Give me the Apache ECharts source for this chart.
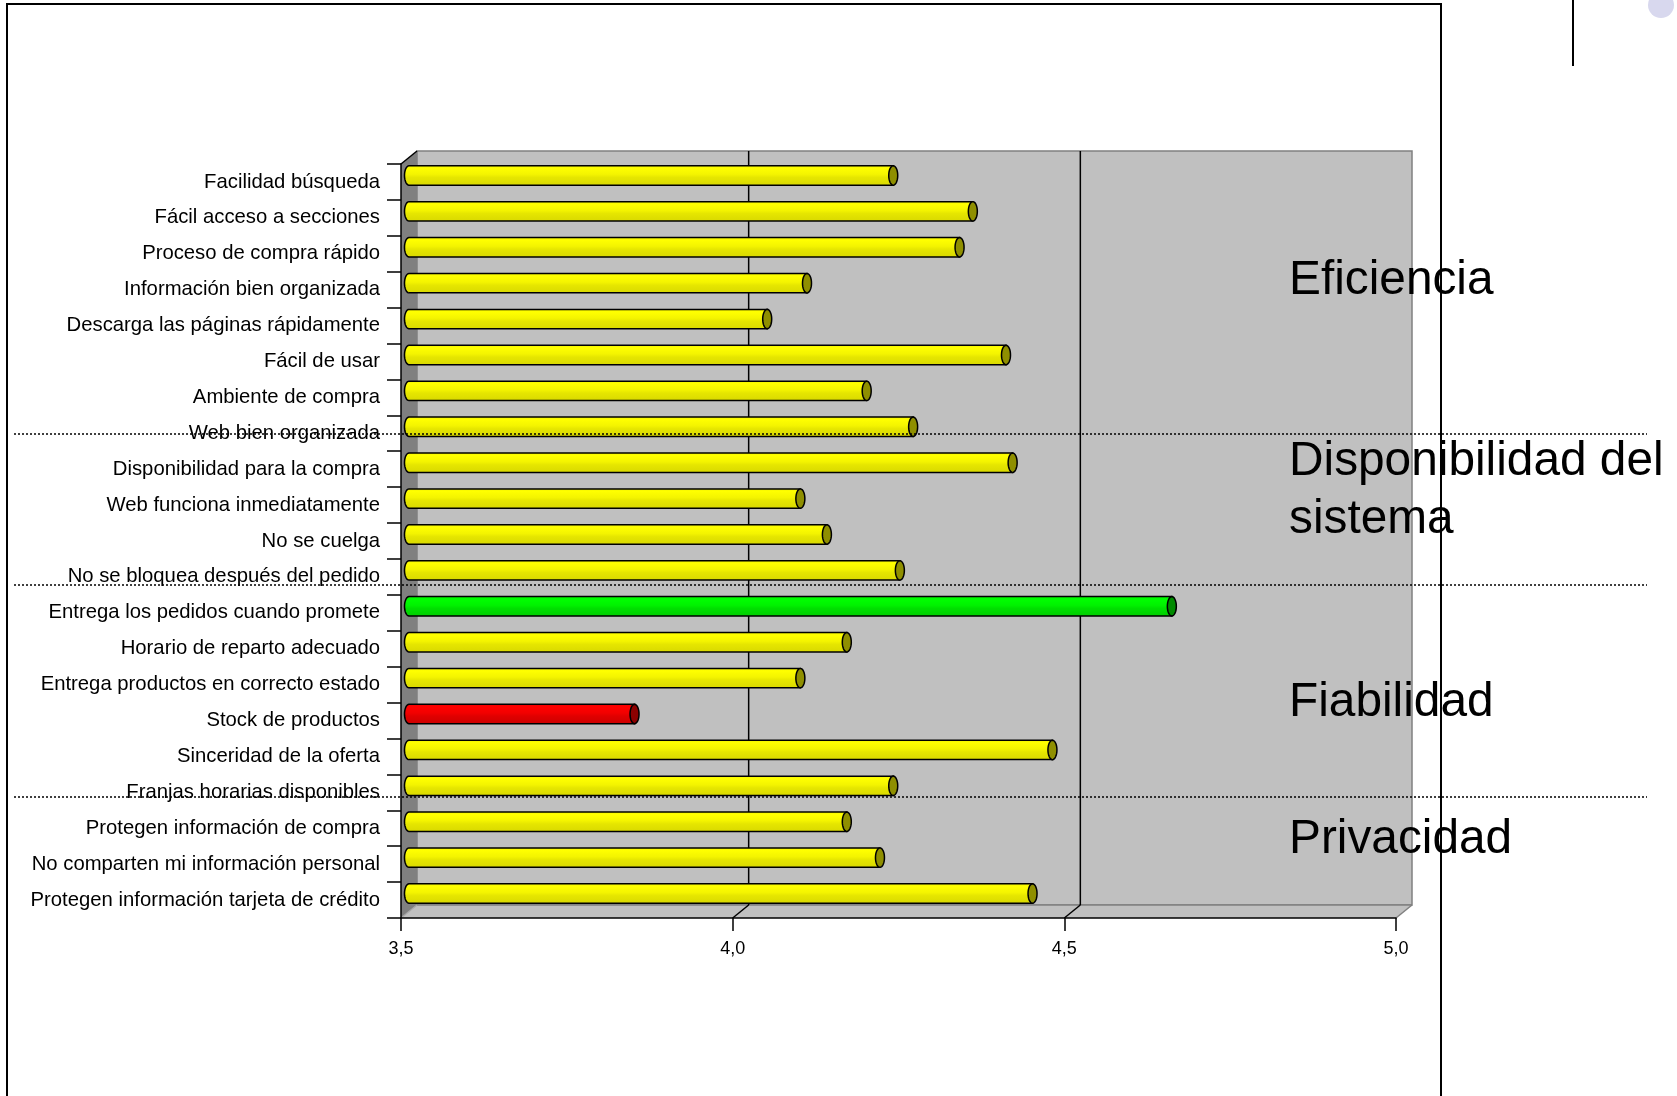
<!DOCTYPE html>
<html>
<head>
<meta charset="utf-8">
<script src="https://cdn.jsdelivr.net/npm/echarts@6/dist/echarts.min.js"></script>
<style>
  html, body { margin: 0; padding: 0; background: #ffffff; }
  #chart { width: 1677px; height: 1096px; }
</style>
</head>
<body>
<div id="chart"></div>
<script>
// Survey attributes, top to bottom
const categories = [
  'Facilidad búsqueda',
  'Fácil acceso a secciones',
  'Proceso de compra rápido',
  'Información bien organizada',
  'Descarga las páginas rápidamente',
  'Fácil de usar',
  'Ambiente de compra',
  'Web bien organizada',
  'Disponibilidad para la compra',
  'Web funciona inmediatamente',
  'No se cuelga',
  'No se bloquea después del pedido',
  'Entrega los pedidos cuando promete',
  'Horario de reparto adecuado',
  'Entrega productos en correcto estado',
  'Stock de productos',
  'Sinceridad de la oferta',
  'Franjas horarias disponibles',
  'Protegen información de compra',
  'No comparten mi información personal',
  'Protegen información tarjeta de crédito'
];

// Mean score per attribute
const scores = [
  4.23, 4.35, 4.33, 4.10, 4.04, 4.40, 4.19, 4.26,
  4.41, 4.09, 4.13, 4.24,
  4.65, 4.16, 4.09, 3.84, 4.47, 4.23,
  4.16, 4.21, 4.44
];

// Value axis ticks
const tickValues = [3.5, 4.0, 4.5, 5.0];

// Dimension headings shown on the right
const sectionTitles = ['Eficiencia', 'Disponibilidad del\nsistema', 'Fiabilidad', 'Privacidad'];

const FONT = "'Liberation Sans', Arial, sans-serif";
const xMin = tickValues[0];
const xMax = tickValues[tickValues.length - 1];

// oblique depth of the 3D box
const DEPTH_X = 16;
const DEPTH_Y = -13;

const maxIdx = scores.indexOf(Math.max(...scores));
const minIdx = scores.indexOf(Math.min(...scores));

const palettes = {
  yellow: { stops: ['#efef00', '#ffff00', '#f4f400', '#e6e600', '#d8d800'], cap: '#8f8f00' },
  green:  { stops: ['#00ee00', '#00ff00', '#00f200', '#00e000', '#00cc00'], cap: '#008a00' },
  red:    { stops: ['#ee0000', '#ff0000', '#f20000', '#e00000', '#cc0000'], cap: '#8c0000' }
};

function gradient(stops) {
  return {
    type: 'linear', x: 0, y: 0, x2: 0, y2: 1,
    colorStops: [
      { offset: 0, color: stops[0] },
      { offset: 0.15, color: stops[1] },
      { offset: 0.45, color: stops[2] },
      { offset: 0.6, color: stops[3] },
      { offset: 1, color: stops[4] }
    ]
  };
}

function ellipsePoints(cx, cy, rx, ry, fromDeg, toDeg, steps) {
  const pts = [];
  for (let i = 0; i <= steps; i++) {
    const a = (fromDeg + (toDeg - fromDeg) * i / steps) * Math.PI / 180;
    pts.push([cx + rx * Math.cos(a), cy + ry * Math.sin(a)]);
  }
  return pts;
}

// Back wall, side wall, floor and gridlines of the 3D plot box
function renderFrame(params, api) {
  const n = categories.length;
  const band = api.size([0, 1])[1];
  const xL = api.coord([xMin, 0])[0];
  const xR = api.coord([xMax, 0])[0];
  const yT = api.coord([xMin, 0])[1] - band / 2;
  const yB = api.coord([xMin, n - 1])[1] + band / 2;
  const dx = DEPTH_X, dy = DEPTH_Y;
  const children = [];

  children.push({
    type: 'rect',
    shape: { x: xL + dx, y: yT + dy, width: xR - xL, height: yB - yT },
    style: { fill: '#c0c0c0', stroke: '#808080', lineWidth: 1.5 }
  });
  children.push({
    type: 'polygon',
    shape: { points: [[xL, yB], [xL + dx, yB + dy], [xR + dx, yB + dy], [xR, yB]] },
    style: { fill: '#c0c0c0', stroke: null }
  });
  children.push({
    type: 'line',
    shape: { x1: xL + dx, y1: yB + dy, x2: xR + dx, y2: yB + dy },
    style: { stroke: '#808080', lineWidth: 1.5 }
  });
  children.push({
    type: 'line',
    shape: { x1: xR, y1: yB, x2: xR + dx, y2: yB + dy },
    style: { stroke: '#808080', lineWidth: 1.5 }
  });
  children.push({
    type: 'polygon',
    shape: { points: [[xL, yT], [xL + dx, yT + dy], [xL + dx, yB + dy], [xL, yB]] },
    style: { fill: '#808080', stroke: null }
  });
  children.push({
    type: 'line',
    shape: { x1: xL, y1: yT, x2: xL + dx, y2: yT + dy },
    style: { stroke: '#000000', lineWidth: 1.5 }
  });
  children.push({
    type: 'line',
    shape: { x1: xL, y1: yB, x2: xL + dx, y2: yB + dy },
    style: { stroke: '#a8a8a8', lineWidth: 1.2 }
  });
  tickValues.slice(1, -1).forEach(function (v) {
    const x = api.coord([v, 0])[0];
    children.push({
      type: 'line',
      shape: { x1: x + dx, y1: yT + dy, x2: x + dx, y2: yB + dy },
      style: { stroke: '#000000', lineWidth: 1.5 }
    });
    children.push({
      type: 'line',
      shape: { x1: x, y1: yB, x2: x + dx, y2: yB + dy },
      style: { stroke: '#000000', lineWidth: 1.5 }
    });
  });
  return { type: 'group', children: children };
}

// Cylinder bar drawn halfway into the box depth
function renderBar(params, api) {
  const v = api.value(0);
  const idx = api.value(1);
  const band = api.size([0, 1])[1];
  const p0 = api.coord([xMin, idx]);
  const p1 = api.coord([v, idx]);
  const ox = DEPTH_X / 2, oy = DEPTH_Y / 2;
  const x0 = p0[0] + ox, x1 = p1[0] + ox, yc = p0[1] + oy;
  const h = band * 0.27;
  const rx = 4.5;
  const pal = idx === maxIdx ? palettes.green : (idx === minIdx ? palettes.red : palettes.yellow);

  const body = [[x1, yc - h]]
    .concat(ellipsePoints(x0, yc, rx, h, 270, 90, 16))
    .concat([[x1, yc + h]]);

  return {
    type: 'group',
    children: [
      {
        type: 'polygon',
        shape: { points: body },
        style: { fill: gradient(pal.stops), stroke: '#000000', lineWidth: 1.5 }
      },
      {
        type: 'polygon',
        shape: { points: ellipsePoints(x1, yc, rx, h, 0, 360, 32) },
        style: { fill: pal.cap, stroke: '#000000', lineWidth: 1.5 }
      }
    ]
  };
}

const chart = echarts.init(document.getElementById('chart'), null, { renderer: 'canvas' });

const separatorYs = [434, 585, 797];

const graphics = [
  {
    type: 'rect', z: 100,
    shape: { x: 7, y: 4, width: 1434, height: 1200 },
    style: { fill: null, stroke: '#000000', lineWidth: 2 }
  },
  {
    type: 'line', z: 100,
    shape: { x1: 1573, y1: 0, x2: 1573, y2: 66 },
    style: { stroke: '#000000', lineWidth: 2 }
  },
  {
    type: 'circle', z: 100,
    shape: { cx: 1661, cy: 5, r: 13 },
    style: { fill: '#d8d8ee', stroke: null }
  }
].concat(separatorYs.map(function (y) {
  return {
    type: 'line', z: 100,
    shape: { x1: 14, y1: y, x2: 1647, y2: y },
    style: { stroke: '#000000', lineWidth: 1.5, lineDash: [2, 2] }
  };
})).concat([
  { text: sectionTitles[0], y: 281 },
  { text: sectionTitles[1], y: 491 },
  { text: sectionTitles[2], y: 703 },
  { text: sectionTitles[3], y: 840 }
].map(function (t) {
  return {
    type: 'text', z: 100,
    x: 1289, y: t.y,
    style: {
      text: t.text, fill: '#000000',
      font: '47.8px ' + FONT, lineHeight: 58,
      textAlign: 'left', textVerticalAlign: 'middle', verticalAlign: 'middle'
    }
  };
}));

chart.setOption({
  animation: false,
  backgroundColor: '#ffffff',
  grid: { left: 401, top: 164, width: 995, height: 754, containLabel: false },
  xAxis: {
    type: 'value',
    min: xMin, max: xMax, interval: 0.5,
    axisLine: { show: true, lineStyle: { color: '#000000', width: 1.5 } },
    axisTick: { show: true, length: 13, lineStyle: { color: '#000000', width: 1.5 } },
    axisLabel: {
      color: '#000000', fontSize: 18, fontFamily: FONT, margin: 22,
      formatter: function (v) { return v.toFixed(1).replace('.', ','); }
    },
    splitLine: { show: false }
  },
  yAxis: {
    type: 'category',
    inverse: true,
    data: categories,
    axisLine: { show: true, lineStyle: { color: '#000000', width: 1.5 } },
    axisTick: { show: true, length: 14, interval: 0, lineStyle: { color: '#000000', width: 1.5 } },
    axisLabel: { color: '#000000', fontSize: 20.3, fontFamily: FONT, margin: 21, interval: 0 },
    splitLine: { show: false }
  },
  graphic: graphics,
  series: [
    {
      type: 'custom',
      name: 'frame',
      z: 0,
      clip: false,
      silent: true,
      renderItem: renderFrame,
      data: [[xMin, 0]]
    },
    {
      type: 'custom',
      name: 'scores',
      z: 3,
      clip: false,
      renderItem: renderBar,
      encode: { x: 0, y: 1 },
      data: scores.map(function (v, i) { return [v, i]; })
    }
  ]
});
</script>
</body>
</html>
